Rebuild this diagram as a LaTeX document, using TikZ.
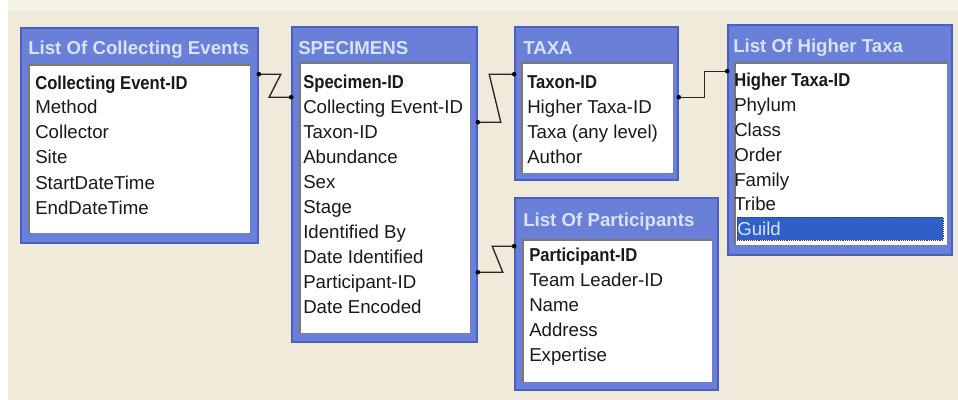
\documentclass[tikz,border=0pt]{standalone}
\usepackage{fontspec}
\setmainfont{Liberation Sans}
\newfontface\keyfont[FakeStretch=0.89]{Liberation Sans Bold}
\usetikzlibrary{fit,calc}
\definecolor{bg}{HTML}{EFEADA}
\definecolor{bgtop}{HTML}{F5F2E8}
\definecolor{frameblue}{HTML}{6A7FD8}
\definecolor{frameedge}{HTML}{4B5EC6}
\definecolor{titletext}{HTML}{D6E4FF}
\definecolor{selblue}{HTML}{2F5FC8}
\definecolor{inset}{HTML}{7D776C}
\begin{document}
\begin{tikzpicture}[x=0.75pt,y=-0.75pt,
  frame/.style={fill=frameblue, draw=frameedge, line width=1.2pt, inner sep=0pt},
  well/.style={fill=white, inner sep=0pt},
  ttl/.style={anchor=west, inner sep=0pt, text=titletext, font=\bfseries\fontsize{14}{16}\selectfont},
  fld/.style={anchor=base west, inner sep=0pt, text=black!90, font=\fontsize{14}{16}\selectfont},
  key/.style={fld, font=\keyfont\fontsize{14}{16}\selectfont},
  link/.style={line width=1pt, black!85},
  dot/.style={circle, fill=black, inner sep=0pt, minimum size=3.5pt},
  insetline/.style={draw=inset, line width=1.5pt}]
\useasboundingbox (0,0) rectangle (958,400);
\fill[bg] (0,0) rectangle (958,400);
\fill[bgtop] (0,0) rectangle (958,10);
\fill[white] (0,0) rectangle (8,400);

% List Of Collecting Events
\node[frame, fit={(21,28) (258,243)}] (ceF) {};
\node[well, fit={(29,65) (250,233)}] (ceW) {};
\draw[insetline] (ceW.south west) |- (ceW.north east);
\node[ttl] (ceT) at (28,50) {List Of Collecting Events};
\node[key] (ce1) at (35,89.5) {Collecting Event-ID};
\node[fld] (ce2) at (35,113.5) {Method};
\node[fld] (ce3) at (35,138.5) {Collector};
\node[fld] (ce4) at (35,163.5) {Site};
\node[fld] (ce5) at (35,189.5) {StartDateTime};
\node[fld] (ce6) at (35,214.5) {EndDateTime};

% SPECIMENS
\node[frame, fit={(292,27) (477,342)}] (spF) {};
\node[well, fit={(300,63) (470,333)}] (spW) {};
\draw[insetline] (spW.south west) |- (spW.north east);
\node[ttl] (spT) at (298,48) {SPECIMENS};
\node[key] (sp1) at (303,88.5) {Specimen-ID};
\node[fld] (sp2) at (303,113.5) {Collecting Event-ID};
\node[fld] (sp3) at (303,138.5) {Taxon-ID};
\node[fld] (sp4) at (303,163.5) {Abundance};
\node[fld] (sp5) at (303,188.5) {Sex};
\node[fld] (sp6) at (303,213.5) {Stage};
\node[fld] (sp7) at (303,238.5) {Identified By};
\node[fld] (sp8) at (303,263.5) {Date Identified};
\node[fld] (sp9) at (303,288.5) {Participant-ID};
\node[fld] (sp10) at (303,313.5) {Date Encoded};

% TAXA
\node[frame, fit={(515,27) (678,180)}] (txF) {};
\node[well, fit={(522,63) (673,173)}] (txW) {};
\draw[insetline] (txW.south west) |- (txW.north east);
\node[ttl] (txT) at (523,48) {TAXA};
\node[key] (tx1) at (527,88.5) {Taxon-ID};
\node[fld] (tx2) at (527,113.5) {Higher Taxa-ID};
\node[fld] (tx3) at (527,138.5) {Taxa (any level)};
\node[fld] (tx4) at (527,163.5) {Author};

% List Of Higher Taxa
\node[frame, fit={(728,25) (952,255)}] (htF) {};
\node[well, fit={(735,63) (947,245)}] (htW) {};
\draw[insetline] (htW.south west) |- (htW.north east);
\node[ttl] (htT) at (733,48) {List Of Higher Taxa};
\node[fill=selblue, draw=black!75, densely dotted, inner sep=0pt, fit={(737,217) (943,240)}] (sel) {};
\node[key] (ht1) at (734,86.5) {Higher Taxa-ID};
\node[fld] (ht2) at (734,111.5) {Phylum};
\node[fld] (ht3) at (734,136.5) {Class};
\node[fld] (ht4) at (734,161.5) {Order};
\node[fld] (ht5) at (734,186) {Family};
\node[fld] (ht6) at (734,210.5) {Tribe};
\node[fld, text=titletext] (ht7) at (737,235.5) {Guild};

% List Of Participants
\node[frame, fit={(515,198) (718,390)}] (paF) {};
\node[well, fit={(523,240) (712,382)}] (paW) {};
\draw[insetline] (paW.south west) |- (paW.north east);
\node[ttl] (paT) at (523,222) {List Of Participants};
\node[key] (pa1) at (529,261.5) {Participant-ID};
\node[fld] (pa2) at (529,286.5) {Team Leader-ID};
\node[fld] (pa3) at (529,311.5) {Name};
\node[fld] (pa4) at (529,336.5) {Address};
\node[fld] (pa5) at (529,361.5) {Expertise};

% connectors
\coordinate (c1a) at ($(ceF.north east)+(0,47)$);
\coordinate (c1b) at ($(spF.north west)+(0,71)$);
\coordinate (c2a) at ($(spF.north east)+(0,96)$);
\coordinate (c2b) at ($(txF.north west)+(0,48)$);
\coordinate (c3a) at ($(spF.north east)+(0,246)$);
\coordinate (c3b) at ($(paF.north west)+(0,49)$);
\coordinate (c4a) at ($(txF.north east)+(0,71)$);
\coordinate (c4b) at ($(htF.north west)+(0,47)$);

\draw[link] (c1a) -- ++(22,0) -- ($(c1b)+(-22,0)$) -- (c1b);
\draw[link] (c2a) -- ++(23,0) -- ($(c2b)+(-25,0)$) -- (c2b);
\draw[link] (c3a) -- ++(25,0) -- ($(c3b)+(-22,0)$) -- (c3b);
\draw[link] (c4a) -- ++(26,0) |- (c4b);
\foreach \c in {c1a,c1b,c2a,c2b,c3a,c3b,c4a,c4b}
  \node[dot] at (\c) {};
\end{tikzpicture}
\end{document}
